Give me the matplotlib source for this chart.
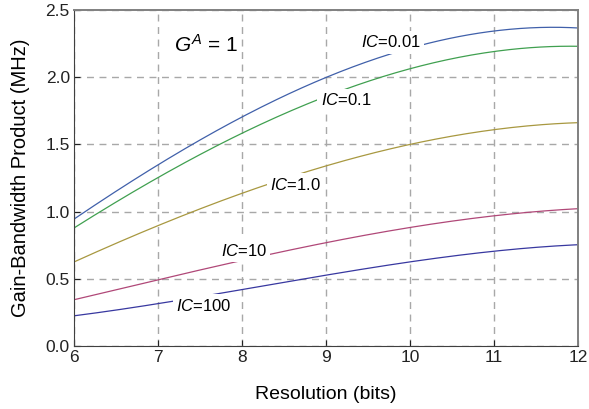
#!/usr/bin/env python3
"""Gain-bandwidth product vs resolution for several inversion coefficients."""
import matplotlib
matplotlib.use("Agg")
import matplotlib.pyplot as plt
import numpy as np

plt.rcParams["font.family"] = ["Liberation Sans", "DejaVu Sans"]
plt.rcParams["mathtext.fontset"] = "custom"
plt.rcParams["mathtext.rm"] = "Liberation Sans"
plt.rcParams["mathtext.it"] = "Liberation Sans:italic"

RES_BITS = [6, 6.5, 7, 7.5, 8, 8.5, 9, 9.5, 10, 10.5, 11, 11.5, 12]
GBW_IC_001 = [0.945, 1.15, 1.35, 1.53, 1.70, 1.86, 2.00, 2.12, 2.22, 2.29, 2.34, 2.365, 2.37]
GBW_IC_01 = [0.875, 1.07, 1.26, 1.43, 1.58, 1.72, 1.85, 1.97, 2.07, 2.14, 2.19, 2.22, 2.23]
GBW_IC_1 = [0.62, 0.77, 0.90, 1.02, 1.13, 1.24, 1.34, 1.43, 1.50, 1.56, 1.61, 1.645, 1.66]
GBW_IC_10 = [0.34, 0.42, 0.50, 0.57, 0.63, 0.70, 0.765, 0.83, 0.885, 0.93, 0.97, 1.00, 1.02]
GBW_IC_100 = [0.22, 0.27, 0.32, 0.37, 0.42, 0.47, 0.52, 0.575, 0.63, 0.67, 0.71, 0.735, 0.75]

SERIES = [
    (GBW_IC_001, "#4060aa", "0.01", 9.77, 2.26),
    (GBW_IC_01, "#40a050", "0.1", 9.24, 1.83),
    (GBW_IC_1, "#a89840", "1.0", 8.64, 1.20),
    (GBW_IC_10, "#b04878", "10", 8.02, 0.71),
    (GBW_IC_100, "#3838a0", "100", 7.55, 0.30),
]


def main():
    fig = plt.figure(figsize=(5.89, 4.09), dpi=100)
    ax = fig.add_axes([0.1256, 0.154, 0.8557, 0.8216])

    xs = np.linspace(6, 12, 200)
    for vals, color, ic, lx, ly in SERIES:
        # smooth cubic through the read points
        coef = np.polyfit(RES_BITS, vals, 3)
        ax.plot(xs, np.polyval(coef, xs), color=color, lw=0.9, zorder=2)
        ax.text(lx, ly, f"$\\mathit{{IC}}$=" + ic, fontsize=12, ha="center",
                va="center", zorder=3,
                bbox=dict(facecolor="white", edgecolor="none", pad=2.5))

    ax.text(7.19, 2.24, "$G^A$ = 1", fontsize=15, ha="left", va="center")

    ax.set_xlim(6, 12)
    ax.set_ylim(0, 2.5)
    ax.set_xticks(range(6, 13))
    ax.set_yticks([0.0, 0.5, 1.0, 1.5, 2.0, 2.5])
    ax.set_yticklabels(["0.0", "0.5", "1.0", "1.5", "2.0", "2.5"])
    ax.grid(True, color="#a8a8a8", linestyle=(0, (5, 4)), lw=1.0, zorder=0)
    ax.tick_params(direction="in", length=4, labelsize=12.5, colors="#222222",
                   pad=3)
    for side in ("left", "bottom"):
        ax.spines[side].set_color("#404040")
    for side in ("top", "right"):
        ax.spines[side].set_color("#808080")
        ax.spines[side].set_linewidth(1.4)

    ax.set_xlabel("Resolution (bits)", fontsize=14, labelpad=15)
    ax.set_ylabel("Gain-Bandwidth Product (MHz)", fontsize=14.5, labelpad=11)

    fig.savefig("out.png", dpi=100)


if __name__ == "__main__":
    main()
